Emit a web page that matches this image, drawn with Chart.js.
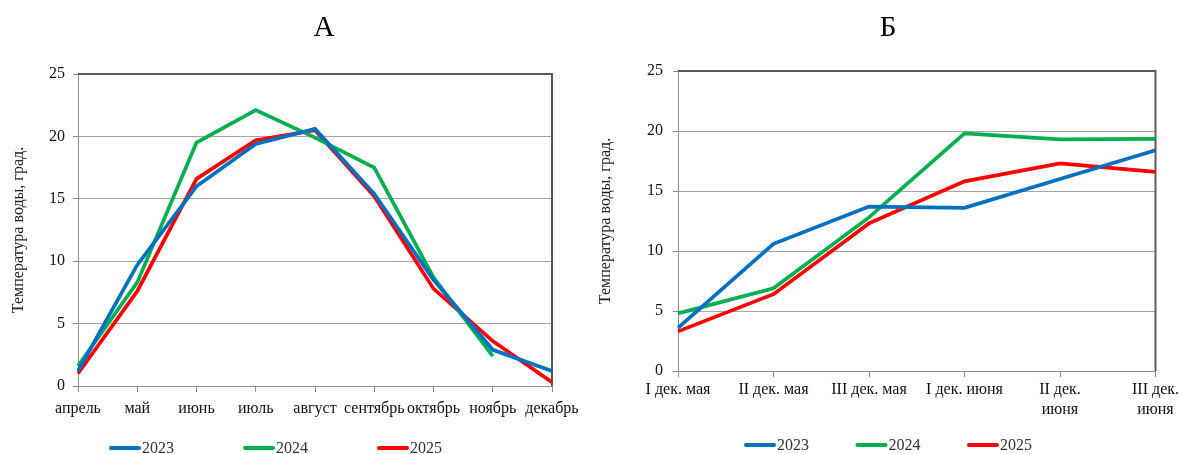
<!DOCTYPE html>
<html>
<head>
<meta charset="utf-8">
<script src="https://cdn.jsdelivr.net/npm/chart.js@4.4.0/dist/chart.umd.min.js"></script>
<style>
  html, body { margin: 0; padding: 0; background: #fff; overflow: hidden; }
  .box { position: absolute; top: 0; height: 454px; }
  #leftBox { left: 0; width: 646px; }
  #rightBox { left: 595px; width: 586px; }
</style>
</head>
<body>
<div class="box" id="leftBox"><canvas id="chartA"></canvas></div>
<div class="box" id="rightBox"><canvas id="chartB"></canvas></div>
<script>
// А: monthly water temperature
const months = ["апрель", "май", "июнь", "июль", "август", "сентябрь", "октябрь", "ноябрь", "декабрь"];
const monthly2023 = [1.2, 9.7, 16.0, 19.4, 20.6, 15.4, 8.5, 2.9, 1.2];
const monthly2024 = [1.6, 8.3, 19.5, 22.1, 19.9, 17.5, 8.7, 2.4, null];
const monthly2025 = [1.0, 7.6, 16.6, 19.7, 20.5, 15.2, 7.8, 3.6, 0.3];

// Б: decades of May and June
const decades = ["I дек. мая", "II дек. мая", "III дек. мая", "I дек. июня", ["II дек.", "июня"], ["III дек.", "июня"]];
const decade2023 = [3.6, 10.6, 13.7, 13.6, 16.0, 18.4];
const decade2024 = [4.8, 6.9, 12.8, 19.8, 19.3, 19.35];
const decade2025 = [3.3, 6.4, 12.3, 15.8, 17.3, 16.6];

const years = ["2023", "2024", "2025"];
const colors = ["#0070C0", "#00B050", "#FF0000"];
const serif = "'Liberation Serif', 'Times New Roman', serif";

// top + right border of the plot area
const frame = {
    id: "frame",
    beforeDatasetsDraw(chart) {
        const a = chart.chartArea, ctx = chart.ctx;
        ctx.save();
        ctx.strokeStyle = "#5a5a5a";
        ctx.lineWidth = 2;
        ctx.beginPath();
        ctx.moveTo(a.left, a.top);
        ctx.lineTo(a.right, a.top);
        ctx.lineTo(a.right, a.bottom);
        ctx.stroke();
        ctx.restore();
    }
};

const caption = {
    id: "caption",
    afterDraw(chart, args, opts) {
        const ctx = chart.ctx;
        ctx.save();
        ctx.font = "29px " + serif;
        ctx.fillStyle = "#000";
        ctx.textAlign = "center";
        ctx.textBaseline = "alphabetic";
        ctx.fillText(opts.text, opts.x, opts.y);
        ctx.restore();
    }
};

const lineLegend = {
    id: "lineLegend",
    afterDraw(chart, args, opts) {
        const ctx = chart.ctx;
        ctx.save();
        ctx.font = "16px " + serif;
        ctx.textBaseline = "middle";
        chart.data.datasets.forEach((ds, i) => {
            const x = opts.x + i * opts.step;
            ctx.strokeStyle = ds.borderColor;
            ctx.lineWidth = 4;
            ctx.lineCap = "round";
            ctx.beginPath();
            ctx.moveTo(x, opts.y);
            ctx.lineTo(x + 28, opts.y);
            ctx.stroke();
            ctx.fillStyle = "#333";
            ctx.fillText(ds.label, x + 31, opts.y + 1);
        });
        ctx.restore();
    }
};

function makeChart(id, title, labels, series, o) {
    return new Chart(document.getElementById(id), {
        type: "line",
        data: {
            labels: labels,
            datasets: series.map((s, i) => ({
                label: years[i],
                data: s,
                borderColor: colors[i],
                backgroundColor: colors[i],
                borderWidth: 3.7,
                pointRadius: 0,
                tension: 0,
                spanGaps: false
            }))
        },
        options: {
            responsive: true,
            maintainAspectRatio: false,
            animation: false,
            layout: { padding: { left: 0, right: o.padRight, top: o.padTop, bottom: 0 } },
            plugins: {
                legend: { display: false },
                tooltip: { enabled: false },
                title: { display: false },
                caption: { text: title, x: o.titleX, y: 36 },
                lineLegend: o.legend
            },
            scales: {
                x: {
                    offset: false,
                    grid: { drawOnChartArea: false, color: "#8c8c8c", tickLength: 6 },
                    border: { color: "#8c8c8c" },
                    ticks: {
                        autoSkip: false, maxRotation: 0, minRotation: 0,
                        color: "#111", padding: o.xPad,
                        font: { family: serif, size: 16, lineHeight: 1.3 }
                    },
                    afterFit: s => { s.height = o.xHeight; }
                },
                y: {
                    min: 0, max: 25,
                    ticks: { stepSize: 5, color: "#111", padding: o.yPad, font: { family: serif, size: 16 } },
                    grid: { color: "#a6a6a6", tickColor: "#8c8c8c", tickLength: 5 },
                    border: { color: "#8c8c8c" },
                    title: {
                        display: true,
                        text: "Температура воды, град.",
                        color: "#222",
                        font: { family: serif, size: 16 },
                        padding: { top: o.titlePad, bottom: 0 }
                    },
                    afterFit: s => { s.width = o.yWidth; }
                }
            }
        },
        plugins: [frame, caption, lineLegend]
    });
}

makeChart("chartA", "А", months, [monthly2023, monthly2024, monthly2025], {
    padRight: 94, padTop: 74, xHeight: 68, xPad: 6, yPad: 8, yWidth: 78, titlePad: 9, titleX: 324,
    legend: { x: 111, step: 134, y: 448 }
});

makeChart("chartB", "Б", decades, [decade2023, decade2024, decade2025], {
    padRight: 22, padTop: 71, xHeight: 83, xPad: 2, yPad: 10, yWidth: 83, titlePad: 1, titleX: 293,
    legend: { x: 151, step: 111.5, y: 445 }
});
</script>
</body>
</html>
